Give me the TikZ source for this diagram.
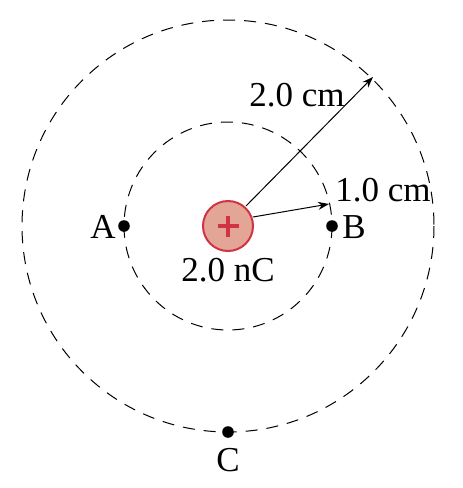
\documentclass[tikz,border=0pt]{standalone}
\usepackage{fontspec}
\setmainfont{Liberation Serif}
\usetikzlibrary{arrows.meta}
\definecolor{chargefill}{HTML}{E3A595}
\definecolor{chargeedge}{HTML}{CF3344}
\begin{document}
\begin{tikzpicture}[x=0.5pt,y=-0.5pt,
  dashcircle/.style={draw, dash pattern=on 6pt off 4.5pt, line width=0.5pt},
  pt/.style={circle, fill=black, inner sep=0pt, minimum size=5.8pt},
  lbl/.style={font=\fontsize{17.5}{20}\selectfont, inner sep=0pt},
  arr/.style={-{Stealth[length=5.5pt,width=4pt]}, line width=0.5pt}]
\useasboundingbox (0,0) rectangle (462,488);
\coordinate (O) at (228,226);
\draw[dashcircle] (O) circle[radius=104];
\draw[dashcircle] (O) circle[radius=206];
\node[circle, draw=chargeedge, fill=chargefill, line width=1pt, minimum size=25pt, inner sep=0pt] (q) at (O) {};
\draw[chargeedge, line width=1.8pt] (217.5,226) -- (238.5,226) (228,215.5) -- (228,236.5);
\node[pt] (A) at (124,226) {};
\node[pt] (B) at (332,226) {};
\node[pt] (C) at (228,432) {};
\node[lbl] (Al) at (103,227) {A};
\node[lbl] (Bl) at (354,227) {B};
\node[lbl] (Cl) at (228,460) {C};
\node[lbl] (ql) at (228,270) {2.0 nC};
\node[lbl] (l2) at (297,95) {2.0 cm};
\node[lbl] (l1) at (383,190) {1.0 cm};
\coordinate (s1) at (253,217);
\coordinate (s2) at (246,206);
\coordinate (e1) at (329,204);
\coordinate (e2) at (373,77);
\draw[arr] (s1) -- (e1);
\draw[arr] (s2) -- (e2);
\end{tikzpicture}
\end{document}
